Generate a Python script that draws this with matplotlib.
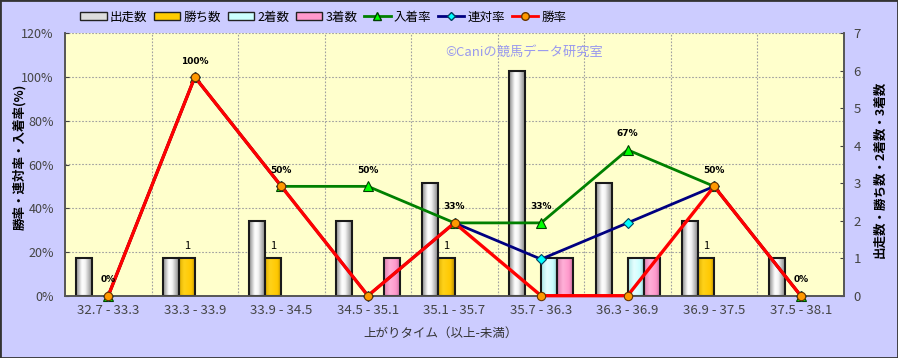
import numpy as np
import matplotlib
matplotlib.use("Agg")
import matplotlib.pyplot as plt
from matplotlib.colors import LinearSegmentedColormap
from matplotlib.patches import Patch, Rectangle
from matplotlib.lines import Line2D

plt.rcParams['font.family'] = ['Noto Sans CJK JP', 'DejaVu Sans']

# ---------------------------------------------------------------------------
# Data
# ---------------------------------------------------------------------------
categories = ['32.7 - 33.3', '33.3 - 33.9', '33.9 - 34.5', '34.5 - 35.1', '35.1 - 35.7',
              '35.7 - 36.3', '36.3 - 36.9', '36.9 - 37.5', '37.5 - 38.1']
runners = [1, 1, 2, 2, 3, 6, 3, 2, 1]
wins = [0, 1, 1, 0, 1, 0, 0, 1, 0]
seconds = [0, 0, 0, 0, 0, 1, 1, 0, 0]
thirds = [0, 0, 0, 1, 0, 1, 1, 0, 0]
win_rate = [0, 100, 50, 0, 33.3, 0, 0, 50, 0]
rentai_rate = [0, 100, 50, 0, 33.3, 16.7, 33.3, 50, 0]
place_rate = [0, 100, 50, 50, 33.3, 33.3, 66.7, 50, 0]

pct_ticks = [0, 20, 40, 60, 80, 100, 120]
cnt_ticks = [0, 1, 2, 3, 4, 5, 6, 7]

BG = "#CCCCFF"
PLOT_BG = "#FFFFCC"
TICK_C = "#444444"
GRID_C = "#A0A0A0"

# ---------------------------------------------------------------------------
# Figure
# ---------------------------------------------------------------------------
fig = plt.figure(figsize=(8.98, 3.58), dpi=100, facecolor=BG)
ax = fig.add_axes([65 / 898, 1 - 295.7 / 358, (844 - 65) / 898, (295.7 - 33.3) / 358])
ax2 = ax.twinx()
ax.set_zorder(ax2.get_zorder() + 1)
ax.patch.set_visible(False)
ax2.patch.set_visible(True)
ax2.patch.set_facecolor(PLOT_BG)

x = np.arange(len(categories))
w = 0.185

# grid on the lower axes so bars cover it
for p in pct_ticks[1:]:
    ax2.axhline(p * cnt_ticks[-1] / pct_ticks[-1], color=GRID_C, lw=0.8, ls=(0, (1.5, 1.5)), zorder=0)
for b in np.arange(0.5, len(categories) - 0.5, 1):
    ax2.axvline(b, color=GRID_C, lw=0.8, ls=(0, (1.5, 1.5)), zorder=0)


def shaded_bars(axis, xs, vals, colors):
    cmap = LinearSegmentedColormap.from_list("c", colors)
    grad = np.linspace(0, 1, 64).reshape(1, -1)
    bars = axis.bar(xs, vals, w, facecolor="none", edgecolor="#1A1A1A", lw=1.5, zorder=3)
    for bar in bars:
        h = bar.get_height()
        if h == 0:
            bar.set_visible(False)
            continue
        bx, bw = bar.get_x(), bar.get_width()
        axis.imshow(grad, extent=[bx, bx + bw, 0, h], aspect="auto", cmap=cmap,
                    interpolation="bicubic", zorder=2)
    return bars


shaded_bars(ax2, x - 1.5 * w, runners, [(0, "#8A8A8A"), (0.35, "#FFFFFF"), (0.55, "#F4F4F4"), (1, "#7A7A7A")])
win_bars = shaded_bars(ax2, x - 0.5 * w, wins, [(0, "#E0B000"), (0.3, "#FFD21A"), (0.75, "#FFC800"), (1, "#B08800")])
shaded_bars(ax2, x + 0.5 * w, seconds, [(0, "#A8E6E6"), (0.35, "#E6FFFF"), (0.7, "#CCFFFF"), (1, "#90D0D0")])
shaded_bars(ax2, x + 1.5 * w, thirds, [(0, "#E080B0"), (0.35, "#FFB0D8"), (0.7, "#FF99CC"), (1, "#C86A9C")])

for bar in win_bars:
    h = bar.get_height()
    if h > 0:
        ax2.annotate(f"{h:d}", (bar.get_x() + bar.get_width() / 2, h), xytext=(0, 9),
                     textcoords="offset points", ha="center", va="center", fontsize=8,
                     color="black", zorder=5)

ax2.set_xlim(-0.5, len(categories) - 0.5)
ax2.set_ylim(0, cnt_ticks[-1])
ax2.set_yticks(cnt_ticks)
ax2.tick_params(axis="y", direction="in", length=3, pad=7, labelsize=9.5, colors=TICK_C)

# lines
ax.plot(x, place_rate, color="#008000", lw=2, marker="^", ms=7, mfc="#00FF00",
        mec="#004000", mew=0.8, zorder=3, clip_on=False)
ax.plot(x, rentai_rate, color="#000080", lw=2, marker="D", ms=5, mfc="#00FFFF",
        mec="#004060", mew=0.8, zorder=4, clip_on=False)
ax.plot(x, win_rate, color="#FF0000", lw=2.4, marker="o", ms=6, mfc="#FF9900",
        mec="#663300", mew=0.8, zorder=5, clip_on=False)

for xi, v in zip(x, place_rate):
    ax.annotate(f"{round(v)}%", (xi, v), xytext=(0, 11.5), textcoords="offset points",
                ha="center", va="center", fontsize=6.5, fontweight="bold", color="black",
                family=["DejaVu Sans"], zorder=6)

ax.set_xlim(-0.5, len(categories) - 0.5)
ax.set_ylim(0, pct_ticks[-1])
ax.set_yticks(pct_ticks)
ax.set_yticklabels([f"{p}%" for p in pct_ticks])
ax.set_xticks(x)
ax.set_xticklabels(categories)
ax.tick_params(axis="y", direction="in", length=3, pad=8, labelsize=9, colors=TICK_C)
ax.tick_params(axis="x", length=0, pad=6, labelsize=9.5, colors=TICK_C)

for a in (ax, ax2):
    a.spines["top"].set_visible(False)
    for s in ("left", "right", "bottom"):
        a.spines[s].set_color("#555555")
        a.spines[s].set_linewidth(1.2)

# texts
fig.text(441 / 898, 1 - 333 / 358, "上がりタイム（以上-未満）", ha="center", va="center",
         fontsize=9, color="#333333")
fig.text(20 / 898, 1 - 157 / 358, "勝率・連対率・入着率(%)", ha="center", va="center",
         rotation=90, fontsize=9, fontweight="bold", color="black")
fig.text(880 / 898, 1 - 169 / 358, "出走数・勝ち数・2着数・3着数", ha="center", va="center",
         rotation=90, fontsize=9, fontweight="bold", color="black")
fig.text(445 / 898, 1 - 52 / 358, "©Caniの競馬データ研究室", ha="left", va="center",
         fontsize=9.5, color="#9999EE")

# legend
handles = [
    Patch(facecolor="#DDDDDD", edgecolor="#222222", label="出走数"),
    Patch(facecolor="#FFCC00", edgecolor="#222222", label="勝ち数"),
    Patch(facecolor="#CCFFFF", edgecolor="#222222", label="2着数"),
    Patch(facecolor="#FF99CC", edgecolor="#222222", label="3着数"),
    Line2D([], [], color="#008000", lw=2, marker="^", ms=6, mfc="#00FF00", mec="#004000", label="入着率"),
    Line2D([], [], color="#000080", lw=2, marker="D", ms=4.5, mfc="#00FFFF", mec="#004060", label="連対率"),
    Line2D([], [], color="#FF0000", lw=2, marker="o", ms=5.5, mfc="#FF9900", mec="#663300", label="勝率"),
]
fig.legend(handles=handles, loc="center", bbox_to_anchor=(0.360, 1 - 17 / 358), ncol=7,
           frameon=False, fontsize=9, handlelength=2.1, handleheight=0.6,
           handletextpad=0.25, columnspacing=0.55, borderpad=0, numpoints=1)

fig.patches.append(Rectangle((0, 0), 1, 1, transform=fig.transFigure, fill=False,
                             edgecolor="#333333", lw=2))

fig.savefig("out.png", dpi=100, facecolor=BG)
